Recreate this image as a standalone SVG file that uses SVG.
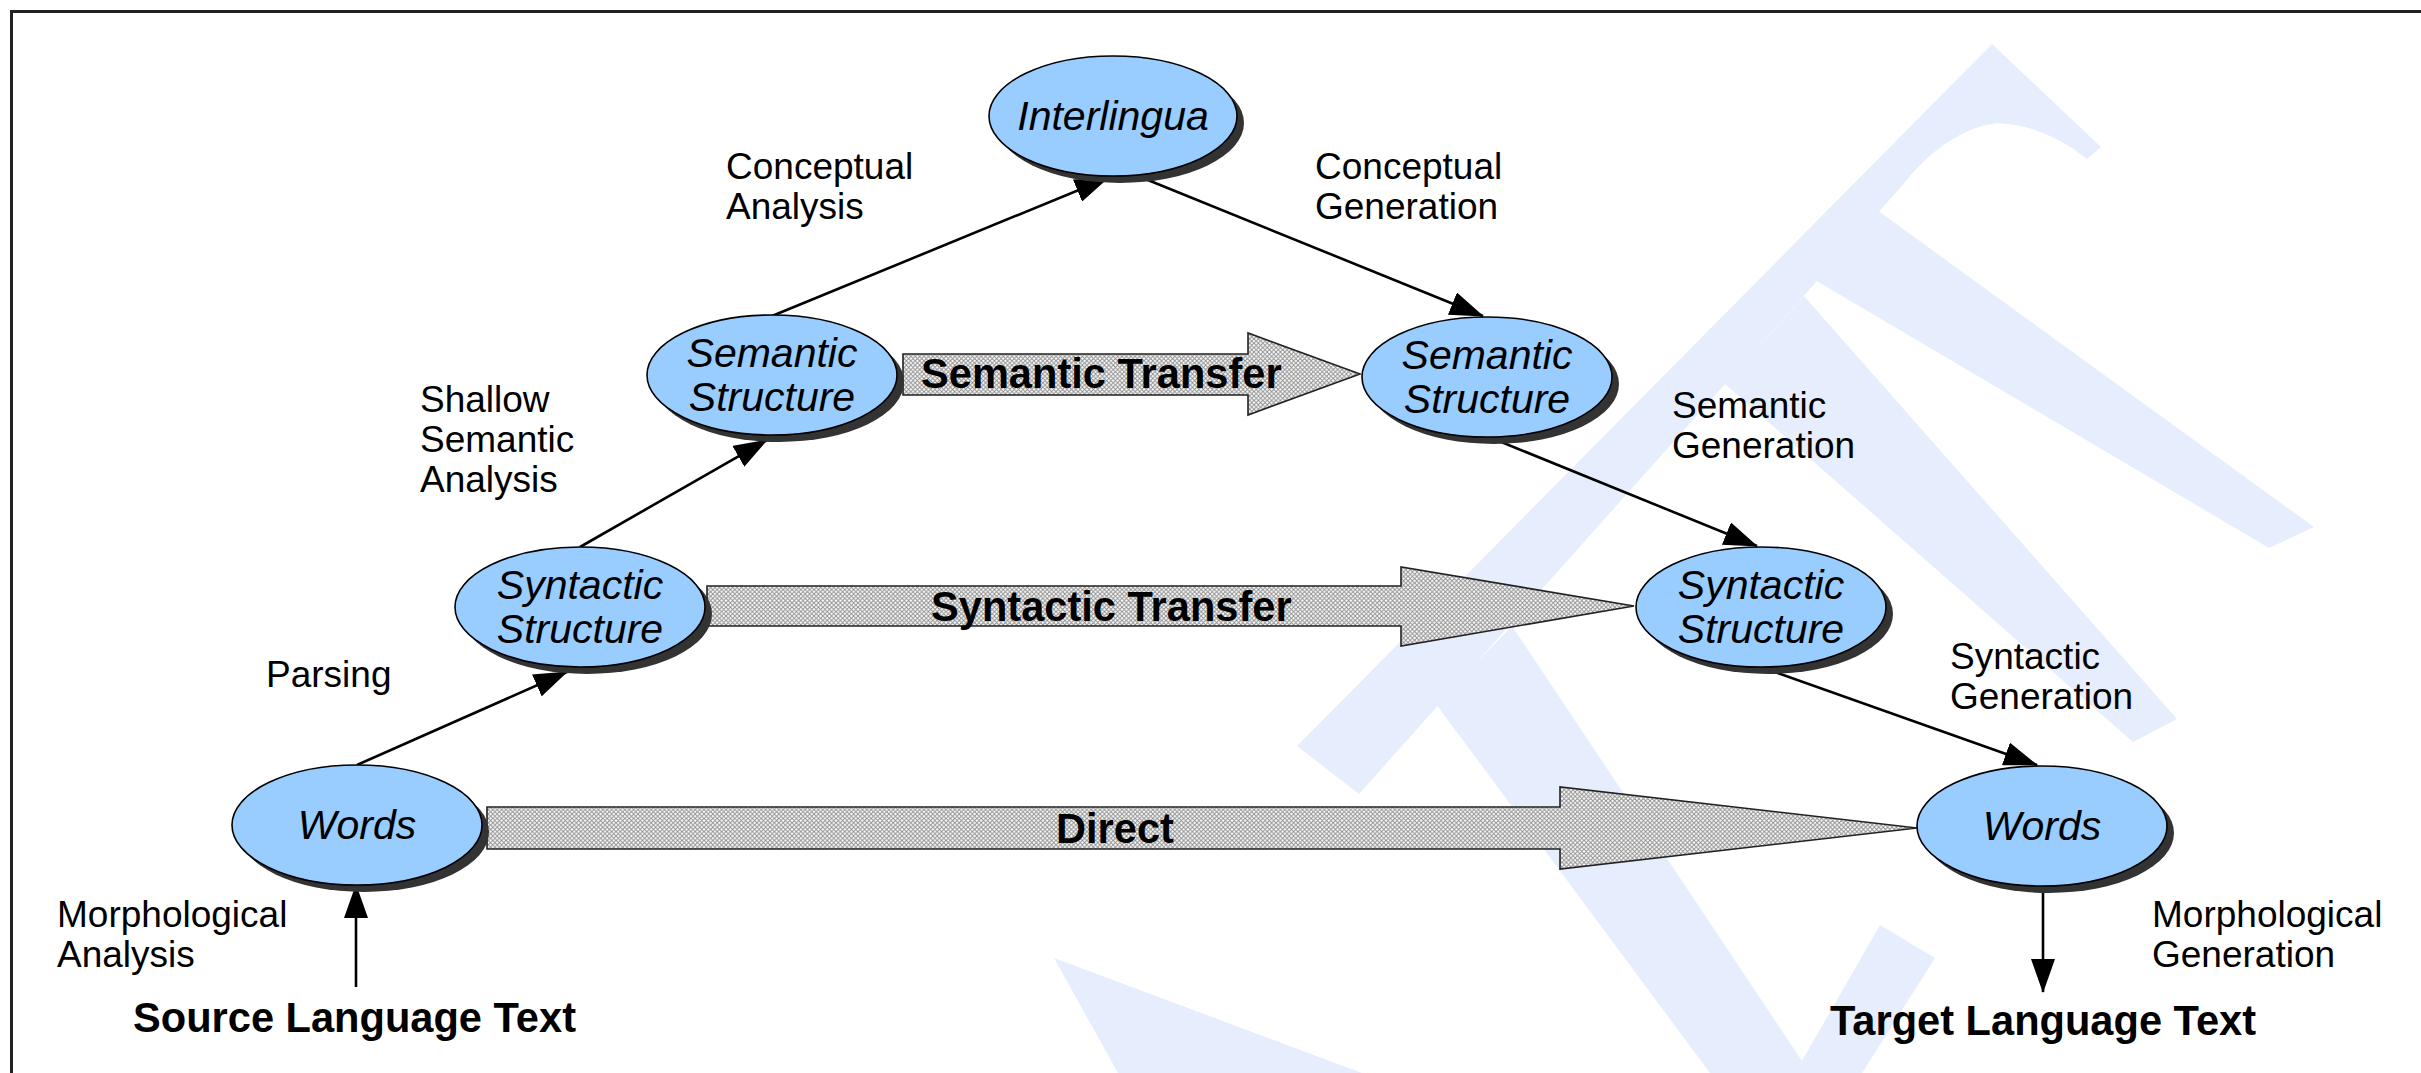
<svg xmlns="http://www.w3.org/2000/svg" width="2421" height="1073" viewBox="0 0 2421 1073">
  <defs>
    <style>
      .lbl { font-family: "Liberation Sans", Arial, sans-serif; font-size: 37px; fill: #000; }
      .node-txt { font-family: "Liberation Sans", Arial, sans-serif; font-size: 41px; font-style: italic; fill: #000; text-anchor: middle; }
      .bold { font-family: "Liberation Sans", Arial, sans-serif; font-size: 41.6px; font-weight: bold; fill: #000; }
      .node { fill: #99ccff; stroke: #000; stroke-width: 1.6; }
      .shadow { fill: #333; }
      .conn { stroke: #000; stroke-width: 2.6; fill: none; marker-end: url(#ah); }
      .block { fill: url(#hatch); stroke: #222; stroke-width: 1.6; }
      .wm { fill: #e6edfc; }
    </style>
    <marker id="ah" markerWidth="34" markerHeight="24" refX="33" refY="12" orient="auto" markerUnits="userSpaceOnUse">
      <path d="M0,0 L34,12 L0,24 Z" fill="#000"/>
    </marker>
    <pattern id="hatch" width="4.4" height="4.4" patternUnits="userSpaceOnUse">
      <rect width="4.4" height="4.4" fill="#fff"/>
      <path d="M0,0 L4.4,4.4 M4.4,0 L0,4.4" stroke="#8e8e8e" stroke-width="0.95"/>
    </pattern>
  </defs>

  <rect width="2421" height="1073" fill="#fff"/>

  <!-- faint background logo -->
  <g id="watermark">
    <path class="wm" d="M1992,44 L2101,147 L2087,159 Q2045,125 1997,123 Q1945,130 1900,188 L1359,794 L1297,746 Z"/>
    <path class="wm" d="M1870,205 L2314,527 L2269,548 L1815,280 Z"/>
    <path class="wm" d="M1804,296 L2177,719 L2133,742 L1725,384 Z"/>
    <path class="wm" d="M1512,626 L1810,1073 L1710,1073 L1436,704 Z"/>
    <path class="wm" d="M1054,958 L1362,1073 L1118,1073 Z"/>
    <path class="wm" d="M1880,925 L1935,958 L1862,1073 L1795,1073 Z"/>
  </g>

  <!-- frame -->
  <path d="M11.5,1073 V11.5 H2421" fill="none" stroke="#222" stroke-width="3"/>

  <!-- transfer arrows -->
  <g id="transfers">
    <g id="semantic-transfer">
      <polygon class="block" points="903,354 1248,354 1248,333 1360,374 1248,415 1248,395 903,395"/>
      <text class="bold" x="921" y="388">Semantic Transfer</text>
    </g>
    <g id="syntactic-transfer">
      <polygon class="block" points="707,586 1401,586 1401,567 1634,606 1401,646 1401,626 707,626"/>
      <text class="bold" x="931" y="621">Syntactic Transfer</text>
    </g>
    <g id="direct">
      <polygon class="block" points="487,807 1560,807 1560,787 1917,828 1560,869 1560,849 487,849"/>
      <text class="bold" x="1056" y="843">Direct</text>
    </g>
  </g>

  <!-- connectors -->
  <g id="connectors">
    <line class="conn" x1="357" y1="765" x2="567" y2="672"/>
    <line class="conn" x1="580" y1="547" x2="767" y2="440"/>
    <line class="conn" x1="772" y1="316" x2="1108" y2="178"/>
    <line class="conn" x1="1138" y1="176" x2="1483" y2="316"/>
    <line class="conn" x1="1489" y1="437" x2="1757" y2="546"/>
    <line class="conn" x1="1761" y1="667" x2="2037" y2="765"/>
    <line class="conn" x1="2043" y1="887" x2="2043" y2="992"/>
    <line class="conn" x1="356" y1="987" x2="356" y2="885"/>
  </g>

  <!-- nodes -->
  <g id="words-src">
    <ellipse class="shadow" cx="364" cy="832" rx="125" ry="60"/>
    <ellipse class="node" cx="357" cy="825" rx="125" ry="60"/>
    <text class="node-txt" x="357" y="839">Words</text>
  </g>
  <g id="syntactic-src">
    <ellipse class="shadow" cx="587" cy="614" rx="125" ry="60"/>
    <ellipse class="node" cx="580" cy="607" rx="125" ry="60"/>
    <text class="node-txt" x="580" y="599">Syntactic</text>
    <text class="node-txt" x="580" y="643">Structure</text>
  </g>
  <g id="semantic-src">
    <ellipse class="shadow" cx="779" cy="382" rx="125" ry="60"/>
    <ellipse class="node" cx="772" cy="375" rx="125" ry="60"/>
    <text class="node-txt" x="772" y="367">Semantic</text>
    <text class="node-txt" x="772" y="411">Structure</text>
  </g>
  <g id="interlingua">
    <ellipse class="shadow" cx="1120" cy="123" rx="124" ry="60"/>
    <ellipse class="node" cx="1113" cy="116" rx="124" ry="60"/>
    <text class="node-txt" x="1113" y="130">Interlingua</text>
  </g>
  <g id="semantic-tgt">
    <ellipse class="shadow" cx="1494" cy="384" rx="125" ry="60"/>
    <ellipse class="node" cx="1487" cy="377" rx="125" ry="60"/>
    <text class="node-txt" x="1487" y="369">Semantic</text>
    <text class="node-txt" x="1487" y="413">Structure</text>
  </g>
  <g id="syntactic-tgt">
    <ellipse class="shadow" cx="1768" cy="614" rx="125" ry="60"/>
    <ellipse class="node" cx="1761" cy="607" rx="125" ry="60"/>
    <text class="node-txt" x="1761" y="599">Syntactic</text>
    <text class="node-txt" x="1761" y="643">Structure</text>
  </g>
  <g id="words-tgt">
    <ellipse class="shadow" cx="2049" cy="833" rx="125" ry="60"/>
    <ellipse class="node" cx="2042" cy="826" rx="125" ry="60"/>
    <text class="node-txt" x="2042" y="840">Words</text>
  </g>

  <!-- step labels -->
  <g id="labels">
    <text class="lbl" x="726" y="179">Conceptual</text>
    <text class="lbl" x="726" y="219">Analysis</text>
    <text class="lbl" x="1315" y="179">Conceptual</text>
    <text class="lbl" x="1315" y="219">Generation</text>
    <text class="lbl" x="420" y="412">Shallow</text>
    <text class="lbl" x="420" y="452">Semantic</text>
    <text class="lbl" x="420" y="492">Analysis</text>
    <text class="lbl" x="1672" y="418">Semantic</text>
    <text class="lbl" x="1672" y="458">Generation</text>
    <text class="lbl" x="266" y="687">Parsing</text>
    <text class="lbl" x="1950" y="669">Syntactic</text>
    <text class="lbl" x="1950" y="709">Generation</text>
    <text class="lbl" x="57" y="927">Morphological</text>
    <text class="lbl" x="57" y="967">Analysis</text>
    <text class="lbl" x="2152" y="927">Morphological</text>
    <text class="lbl" x="2152" y="967">Generation</text>
    <text class="bold" x="133" y="1032">Source Language Text</text>
    <text class="bold" x="1830" y="1035">Target Language Text</text>
  </g>
</svg>
